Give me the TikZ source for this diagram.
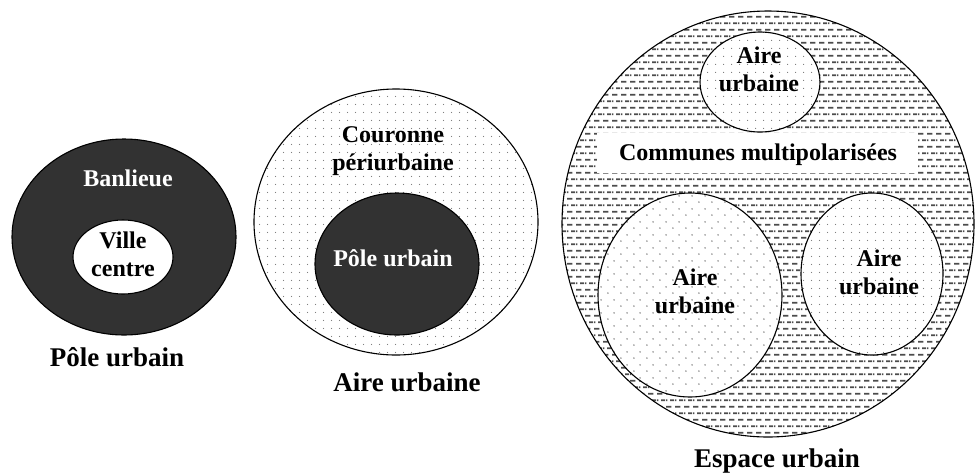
\documentclass[tikz,border=0pt]{standalone}
\usepackage{fontspec}
\setmainfont{Liberation Serif}
\usetikzlibrary{shapes.geometric,patterns.meta}
\definecolor{darkfill}{RGB}{50,50,50}
\tikzdeclarepattern{
  name=sparsedots,
  bottom left={(0pt,0pt)},
  top right={(8pt,8pt)},
  tile size={(8pt,8pt)},
  code={\fill (4pt,4pt) circle (0.65pt);}
}
\tikzdeclarepattern{
  name=densedots,
  bottom left={(0pt,0pt)},
  top right={(12.6pt,12.6pt)},
  tile size={(12.6pt,12.6pt)},
  code={\fill (3pt,3pt) circle (0.8pt); \fill (9.3pt,9.3pt) circle (0.8pt);}
}
\tikzdeclarepattern{
  name=dashrows,
  bottom left={(0pt,0pt)},
  top right={(9pt,13.4pt)},
  tile size={(9pt,13.4pt)},
  code={\fill (0pt,2.6pt) rectangle (6pt,4.4pt);
        \fill (4.5pt,9.3pt) rectangle (9pt,11.1pt);
        \fill (0pt,9.3pt) rectangle (1.5pt,11.1pt);}
}
\begin{document}
\begin{tikzpicture}[x=1pt,y=-1pt,
  ell/.style={ellipse, draw, line width=1.1pt, inner sep=0pt},
  dk/.style={fill=darkfill},
  dotzone/.style={preaction={fill=white}, pattern=sparsedots, pattern color=black!55},
  densezone/.style={preaction={fill=white}, pattern=densedots, pattern color=black!55},
  dashzone/.style={preaction={fill=white}, pattern=dashrows, pattern color=black!70},
  lbl/.style={font=\bfseries\fontsize{24}{28}\selectfont, align=center, inner sep=0pt},
  captxt/.style={font=\bfseries\fontsize{27}{29}\selectfont, inner sep=0pt}
]
\useasboundingbox (0,0) rectangle (975,475);

% ---- Pole urbain ----
\node[ell, dk, minimum width=224pt, minimum height=196pt] (banl) at (124,237) {};
\node[ell, fill=white, minimum width=100pt, minimum height=74pt] (ville) at (123,257) {};
\node[lbl, text=white] (tbanl) at (128,178) {Banlieue};
\node[lbl] (tville) at (123,254) {Ville\\centre};
\node[captxt] (cap1) at (117,357) {Pôle urbain};

% ---- Aire urbaine ----
\node[ell, dotzone, minimum width=284pt, minimum height=266pt] (aire) at (396,222) {};
\node[ell, dk, minimum width=164pt, minimum height=142pt] (pole) at (397,264) {};
\node[lbl] (tcour) at (393,151) {Couronne\\périurbaine};
\node[lbl, text=white] (tpole) at (393,258) {Pôle urbain};
\node[captxt] (cap2) at (407,382) {Aire urbaine};

% ---- Espace urbain ----
\node[ell, dashzone, minimum width=412pt, minimum height=426pt] (esp) at (768,224) {};
\node[rectangle, fill=white, minimum width=321pt, minimum height=40pt, inner sep=0pt] (band) at (757,153) {};
\node[lbl] (tcomm) at (758,155) {Communes multipolarisées};
\node[ell, dotzone, minimum width=120pt, minimum height=100pt] (a1) at (760,82) {};
\node[ell, densezone, minimum width=184pt, minimum height=204pt] (a2) at (690,295) {};
\node[ell, dotzone, minimum width=142pt, minimum height=162pt] (a3) at (872,274) {};
\node[lbl] (ta1) at (759,69) {Aire\\urbaine};
\node[lbl] (ta2) at (695,291) {Aire\\urbaine};
\node[lbl] (ta3) at (879,272) {Aire\\urbaine};
\node[captxt] (cap3) at (777,461) {Espace urbain};
\end{tikzpicture}
\end{document}
